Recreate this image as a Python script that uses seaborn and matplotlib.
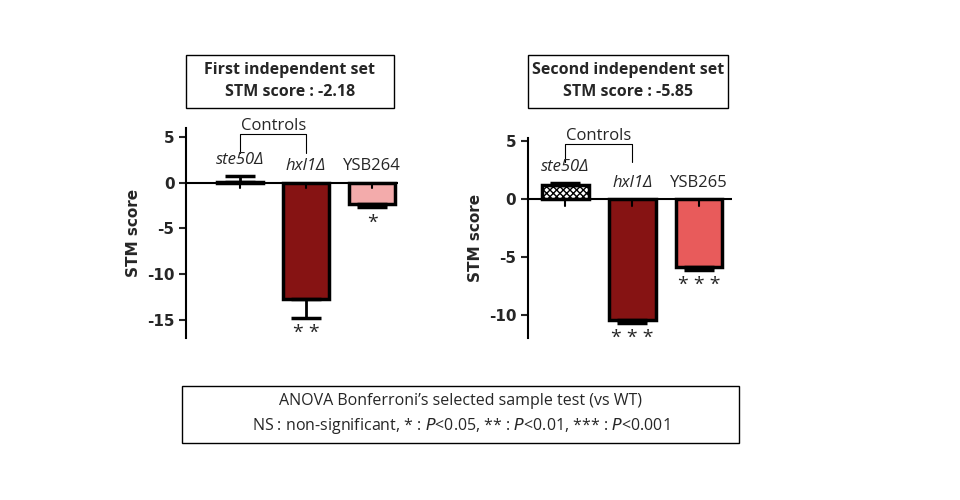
import numpy as np
import matplotlib
matplotlib.use("Agg")
from matplotlib import pyplot as plt
from matplotlib.patches import Rectangle
import seaborn as sns
import pandas as pd

sns.set_style("white")
plt.rcParams['font.family'] = ['Open Sans', 'DejaVu Sans']
plt.rcParams['hatch.linewidth'] = 1.0

strains1 = ["ste50Δ", "hxl1Δ", "YSB264"]
scores1 = [0.05, -12.7, -2.3]
errs1 = [0.7, 2.1, 0.4]
stars1 = ["", "**", "*"]
colors1 = ["#ffffff", "#990000", "#ff9f9f"]

strains2 = ["ste50Δ", "hxl1Δ", "YSB265"]
scores2 = [1.2, -10.4, -5.85]
errs2 = [0.25, 0.3, 0.3]
stars2 = ["", "***", "***"]
colors2 = ["#ffffff", "#990000", "#ff4444"]

fig = plt.figure(figsize=(9.6, 5.0), dpi=100)


def panel(rect, strains, scores, errs, stars, colors, ylim, yticks, xlim, hatch_first, title):
    ax = fig.add_axes(rect)
    df = pd.DataFrame({"strain": strains, "score": scores})
    sns.barplot(data=df, x="strain", y="score", hue="strain", palette=colors,
                width=0.7, edgecolor="black", linewidth=2.5, ax=ax, legend=False)
    if hatch_first:
        ax.patches[0].set_hatch("xxxxx")
    for i, (v, e) in enumerate(zip(scores, errs)):
        yerr = [[0], [e]] if v > 0 else [[e], [0]]
        ax.errorbar(i, v, yerr=yerr, color="black", lw=2, capsize=11, capthick=2.5)
        ax.plot([i, i], [0, -0.6 if v >= 0 else -0.6], color="black", lw=1.5)
    ax.axhline(0, color="black", lw=1.5)
    ax.set_xlim(*xlim)
    ax.set_ylim(*ylim)
    ax.set_yticks(yticks)
    ax.set_yticklabels([str(t) for t in yticks], fontsize=11, fontweight="bold",
                       family="DejaVu Sans")
    ax.tick_params(axis="y", length=5, width=1.5, left=True)
    ax.set_xticks([])
    ax.set_xlabel("")
    ax.set_ylabel("STM score", fontsize=11, fontweight="bold", family="DejaVu Sans")
    for s in ["top", "right", "bottom"]:
        ax.spines[s].set_visible(False)
    ax.spines["left"].set_linewidth(1.5)
    ax.spines["left"].set_color("black")
    span = ylim[1] - ylim[0]
    for i, name in enumerate(strains):
        top = max(scores[i] + (errs[i] if scores[i] > 0 else 0), 0)
        ax.text(i, top + 0.04 * span, name, ha="center", va="bottom", fontsize=12,
                style="italic" if i < 2 else "normal")
        if stars[i]:
            low = scores[i] - errs[i]
            ax.text(i, low - 0.03 * span, " ".join(stars[i]), ha="center", va="top",
                    fontsize=14)
    # Controls bracket
    yb = ylim[1] - 0.12 * span
    yt = ylim[1] - 0.03 * span
    ax.plot([0, 0, 1, 1], [yb, yt, yt, yb], color="black", lw=0.8, clip_on=False)
    ax.text(0.5, yt, "Controls", ha="center", va="bottom", fontsize=12)
    # title box
    bx = rect[0]
    fig.patches.append(Rectangle((bx, 0.784), rect[2] - 0.005, 0.106, transform=fig.transFigure,
                                 facecolor="white", edgecolor="black", lw=1))
    fig.text(bx + (rect[2] - 0.005) / 2, 0.837, title, ha="center", va="center",
             fontsize=11.5, fontweight="bold", linespacing=1.5)
    return ax


panel([0.194, 0.324, 0.221, 0.42], strains1, scores1, errs1, stars1, colors1,
      (-17.0, 6.0), [5, 0, -5, -10, -15], (-0.82, 2.4), False,
      "First independent set\nSTM score : -2.18")
panel([0.55, 0.324, 0.213, 0.40], strains2, scores2, errs2, stars2, colors2,
      (-12.0, 5.3), [5, 0, -5, -10], (-0.56, 2.5), True,
      "Second independent set\nSTM score : -5.85")

fig.patches.append(Rectangle((0.19, 0.114), 0.58, 0.114, transform=fig.transFigure,
                             facecolor="white", edgecolor="black", lw=1))
fig.text(0.48, 0.171,
         "ANOVA Bonferroni’s selected sample test (vs WT)\n"
         "NS : non-significant, * : $\\it{P}$<0.05, ** : $\\it{P}$<0.01, *** : $\\it{P}$<0.001",
         ha="center", va="center", fontsize=11.5, linespacing=1.5)

fig.savefig("out.png", dpi=100)
